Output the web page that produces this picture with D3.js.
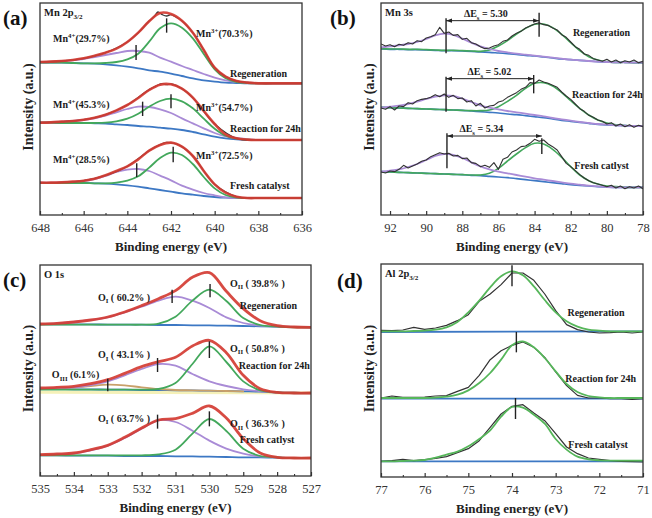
<!DOCTYPE html>
<html><head><meta charset="utf-8">
<script src="https://cdn.jsdelivr.net/npm/d3@7"></script>
<style>
body{margin:0;background:#fff;}
svg{display:block;}
</style></head><body>
<svg id="chart" width="652" height="518" font-family="Liberation Serif"></svg>
<script>
// ---------------- DATA ----------------
// (a) Mn 2p3/2
const aE = [648,647.5,647,646.5,646,645.5,645,644.5,644,643.5,643,642.5,642,641.5,641,640.5,640,639.5,639,638.5,638,637.5,637,636.5,636];
const aRegBg  = [457,457,457,456,455,454,452,449,445,440,434,430,424,417,410,404,400,397,396,395,395,395,395,395,395];
const aRegMn4 = [458,459,461,464,468,474,480,486,492,492,487,472,460,447,435,423,412,404,399,397,396,395,395,395,395];
const aRegMn3 = [457,457,457,456,455,455,456,459,467,484,520,560,575,562,530,483,437,410,399,396,395,395,395,395,395];
const aRegFit = [459,460,462,465,470,478,487,499,519,547,581,606,603,583,547,495,442,415,402,397,395,395,395,395,395];
const aRegRaw = [[648,459],[647,462],[646,470],[645,487],[644,519],[643.5,547],[643,582],[642.75,597],[642.6,609],[642.4,601],[642.2,597],[642,601],[641.75,593],[641.5,583],[641,547],[640.5,495],[640,442],[639.5,415],[639,402],[638,395],[637,395],[636,395]];
const aRxnBg  = [277,277,276,276,276,275,274,272,270,267,265,262,259,255,249,242,235,230,227,225,225,225,225,225,225];
const aRxnMn4 = [277,278,280,282,285,290,298,308,318,325,324,317,306,290,275,260,246,236,231,227,225,225,225,225,225];
const aRxnMn3 = [277,277,276,276,276,276,277,281,289,304,325,342,349,341,320,289,259,238,229,226,225,225,225,225,225];
const aRxnFit = [277,278,280,282,286,292,301,314,330,351,375,391,392,379,352,312,273,242,230,226,225,225,225,225,225];
const aRxnRaw = [[648,277],[647,280],[646,286],[645,301],[644,330],[643,376],[642.6,390],[642.4,394],[642.2,391],[642,393],[641.5,379],[641,352],[640,273],[639,230],[638,225],[636,225]];
const aFrBg   = [96,96,96,96,96,95,94,92,89,85,80,75,70,65,61,57,54,52,51,51,51,51,51,51,51];
const aFrMn4  = [97,97,98,99,102,108,117,129,136,138,132,118,104,88,76,66,59,53,51,51,51,51,51,51,51];
const aFrMn3  = [96,96,96,96,96,95,95,97,103,116,142,171,187,180,153,114,80,60,52,51,51,51,51,51,51];
const aFrFit  = [97,97,98,100,103,109,119,132,146,167,193,210,217,205,177,132,92,67,55,51,51,51,51,51,51];
const aFrRaw  = [[648,97],[647,98],[646,103],[645,119],[644,146],[643,193],[642.5,211],[642.2,218],[642,216],[641.8,214],[641.5,205],[641,177],[640,92],[639,55],[638,51],[636,51]];
const aMarks  = [[643.6,465,510],[642.2,547,590],[643.3,297,340],[642.0,320,362],[643.57,114,155],[641.9,158,205]];
const aLabels = [
  [[['Mn'],['4+','sup'],['(29.7%)']],647.4,530],
  [[['Mn'],['3+','sup'],['(70.3%)']],640.85,545],
  [[['Regeneration']],639.3,425],
  [[['Mn'],['4+','sup'],['(45.3%)']],647.4,333],
  [[['Mn'],['3+','sup'],['(54.7%)']],640.85,323],
  [[['Reaction for 24h']],639.3,260],
  [[['Mn'],['4+','sup'],['(28.5%)']],647.4,167],
  [[['Mn'],['3+','sup'],['(72.5%)']],640.85,180],
  [[['Fresh catalyst']],639.3,90]
];
const aTicks = [648,646,644,642,640,638,636];
const aMinor = [647,645,643,641,639,637];

// (b) Mn 3s
const bE = [92.5,92,91.5,91,90.5,90,89.5,89,88.5,88,87.5,87,86.5,86,85.5,85,84.5,84,83.5,83,82.5,82,81.5,81,80.5,80,79.5,79,78.5,78];
const bRawE = [92.5,92.25,92,91.75,91.5,91.25,91,90.75,90.5,90.25,90,89.75,89.5,89.25,89,88.75,88.5,88.25,88,87.75,87.5,87.25,87,86.75,86.5,86.25,86,85.75,85.5,85.25,85,84.75,84.5,84.25,84,83.75,83.5,83.25,83,82.75,82.5,82.25,82,81.75,81.5,81.25,81,80.75,80.5,80.25,80,79.75,79.5,79.25,79,78.75,78.5,78.25,78];
const bRegBg = [498,497,497,496,496,495,494,493,493,492,491,489,488,486,484,482,479,477,474,471,468,466,464,462,460,459,458,458,457,457];
const bRegP  = [503,506,509,513,519,528,539,544,540,529,517,506,498,492,488,484,481,478,475,472,469,466,464,462,460,459,458,458,457,457];
const bRegG  = [499,498,498,497,497,496,495,494,494,493,492,491,495,507,523,543,560,572,573,562,542,517,493,475,465,460,458,458,457,457];
const bRegRaw= [513,507,511,505,512,509,517,513,523,520,531,535,541,563,545,549,539,541,527,530,517,513,505,499,501,507,511,521,525,537,545,551,561,567,573,577,571,569,561,555,541,533,519,505,497,483,479,469,465,461,467,459,465,457,463,459,465,457,461];
const bRxnBg = [323,322,321,320,319,318,317,316,315,314,312,310,308,306,303,301,298,295,292,288,284,281,278,275,272,270,269,268,267,267];
const bRxnP  = [322,325,328,333,340,348,355,359,357,349,339,329,322,317,312,308,304,300,296,291,287,283,279,276,273,271,269,268,267,267];
const bRxnG  = [323,322,321,320,319,318,317,316,315,314,313,313,315,325,341,359,380,395,397,387,367,343,320,300,285,276,271,268,267,267];
const bRxnRaw= [321,317,325,315,327,325,337,333,343,347,349,353,361,355,363,353,359,349,351,339,343,327,335,321,327,329,339,343,353,360,367,377,383,397,395,405,399,395,389,383,369,357,347,333,319,311,299,293,285,281,273,277,267,273,265,271,263,269,265];
const bFrBg  = [130,129,128,127,126,125,124,123,122,121,119,118,116,114,112,109,106,103,100,97,94,91,89,87,85,84,83,83,83,83];
const bFrP   = [130,133,137,144,153,165,177,183,180,171,158,146,137,130,125,120,115,110,106,102,98,94,91,88,86,84,83,83,83,83];
const bFrG   = [130,129,128,127,126,125,124,123,122,121,120,120,125,140,162,183,202,215,213,197,173,145,120,103,93,87,85,83,83,83];
const bFrRaw = [129,126,132,130,137,149,141,147,153,161,165,175,181,187,183,185,177,179,169,171,157,155,145,149,143,157,137,167,173,189,195,205,207,215,227,221,225,213,205,195,175,155,145,133,121,111,103,97,93,89,85,89,81,87,79,85,81,87,79];
const bMarks = [[88.9,485,590],[83.75,535,607],[88.9,310,415],[84.05,365,420],[88.85,140,245],[83.6,183,230]];
const bArrows = [[88.9,83.75,583],[88.9,84.05,409],[88.85,83.6,237]];
const bDeltaTxt = ['5.30','5.02','5.34'];
const bDeltaPos = [[86.7,605],[86.5,430],[86.95,260]];
const bLabels = [
  [[['Regeneration']],81.88,548],
  [[['Reaction for 24h']],81.93,363],
  [[['Fresh catlyst']],81.8,148]
];
const bTicks = [92,90,88,86,84,82,80,78];
const bMinor = [91,89,87,85,83,81,79];

// (c) O 1s
const cE = [535,534.5,534,533.5,533,532.5,532,531.5,531,530.5,530,529.5,529,528.5,528,527.5,527];
const cE3 = [535,534.5,534,533.5,533,532.5,532,531.5,531,530.5,530,529.5,529];
const cRegBg  = [455,455,455,455,454,454,454,453,453,452,452,451,450,449,448,447,446];
const cRegOI  = [456,458,462,468,476,491,508,526,538,526,504,476,459,451,448,447,446];
const cRegOII = [454,454,454,454,454,454,454,457,478,526,559,525,474,453,448,446,446];
const cRegFit = [456,458,462,468,477,492,511,532,556,596,610,554,502,466,451,447,446];
const cRxnBg  = [261,261,260,260,259,259,258,258,257,257,256,255,254,253,251,250,249];
const cRxnOI  = [262,264,266,273,284,302,321,336,331,306,284,270,260,254,250,248,248];
const cRxnOII = [259,259,259,259,259,259,259,261,279,336,389,342,284,257,251,249,249];
const cRxnOIII= [261,262,265,270,274,272,266,261,258,257,256,255,254];
const cRxnFit = [264,266,269,277,289,308,328,343,356,390,407,370,302,262,251,249,249];
const cRxnResid = [[535,251],[527,249]];
const cFrBg   = [62,62,61,61,61,60,60,60,59,59,58,57,56,56,55,54,54];
const cFrOI   = [63,65,68,77,91,114,142,167,162,136,106,82,67,59,56,54,54];
const cFrOII  = [62,62,62,62,62,62,62,65,79,127,171,135,82,60,56,54,54];
const cFrFit  = [64,66,69,79,92,116,144,168,172,188,210,174,112,69,56,54,54];
const cMarks = [[531.1,519,559],[529.98,536,576],[531.53,312,354],[530.0,354,404],[533.0,254,292],[531.53,142,184],[530.0,149,194]];
const cLabels = [
  [[['O'],['I','sub'],[' ( 60.2% )']],533.29,537],
  [[['O'],['II','sub'],[' ( 39.8% )']],529.39,579],
  [[['Regeneration']],529.1,511],
  [[['O'],['I','sub'],[' ( 43.1% )']],533.29,364],
  [[['O'],['II','sub'],[' ( 50.8% )']],529.39,384],
  [[['O'],['III','sub'],[' (6.1%)']],534.65,304],
  [[['Reaction for 24h']],529.13,331],
  [[['O'],['I','sub'],[' ( 63.7% )']],533.29,174],
  [[['O'],['II','sub'],[' ( 36.3% )']],529.39,157],
  [[['Fresh catlyst']],529.1,109]
];
const cTicks = [535,534,533,532,531,530,529,528,527];
const cMinor = [534.5,533.5,532.5,531.5,530.5,529.5,528.5,527.5];

// (d) Al 2p3/2
const dE = [77,76.75,76.5,76.25,76,75.75,75.5,75.25,75,74.75,74.5,74.25,74,73.75,73.5,73.25,73,72.75,72.5,72.25,72,71.75,71.5,71.25,71];
const dRegFit = [437,437,437,438,439,442,449,465,494,529,569,602,617,605,572,531,494,467,451,442,439,437,437,437,437];
const dRegRaw = [440,439,441,449,443,447,455,469,487,527,549,577,612,612,590,549,499,457,442,435,432,433,435,432,435];
const dRegBg  = [[77,435],[71,437]];
const dRxnFit = [237,237,237,237,237,238,241,247,260,282,312,352,395,407,389,357,317,279,255,243,239,237,237,237,237];
const dRxnRaw = [237,243,239,239,240,243,244,257,269,305,352,379,395,405,389,359,315,274,245,237,237,235,235,233,235];
const dRxnBg  = [[77,235],[71,235]];
const dFrFit  = [47,47,48,49,51,58,67,76,92,114,140,181,210,208,187,160,114,82,61,53,50,49,49,49,49];
const dFrRaw  = [47,49,53,49,52,56,61,73,85,109,149,189,212,217,192,169,130,90,70,57,53,49,47,46,45];
const dFrBg   = [[77,47],[71,47]];
const dMarks = [[74.0,572,635],[73.9,374,435],[73.92,174,237]];
const dLabels = [
  [[['Regeneration']],72.73,495],
  [[['Reaction for 24h']],72.78,297],
  [[['Fresh catalyst']],72.71,97]
];
const dTicks = [77,76,75,74,73,72,71];
const dMinor = [76.5,75.5,74.5,73.5,72.5,71.5];

// ---------------- DRAW ----------------
const FONT = 'Liberation Serif';
const COL = {red:'#d43c33', green:'#43a85c', purple:'#a98bd6', blue:'#3d78c4', raw:'#333333', tan:'#c9a06a', yellow:'#f5f1b8', lgreen:'#56b65a'};
const svg = d3.select('#chart');
const defs = svg.append('defs');
['s','e'].forEach(k=>{
  defs.append('marker').attr('id','arr'+k).attr('viewBox','0 0 10 10').attr('refX',k==='e'?10:0).attr('refY',5)
    .attr('markerWidth',6).attr('markerHeight',6).attr('orient','auto')
    .append('path').attr('d',k==='e'?'M0,1.5 L10,5 L0,8.5 Z':'M10,1.5 L0,5 L10,8.5 Z').attr('fill','#222');
});
const zip = (xs, ys) => xs.map((v,i)=>[v, ys[i]]);

function txt(g){
  return g.append('text').attr('font-family',FONT).attr('xml:space','preserve');
}
function rich(t, parts, size){
  let shift = 0;
  parts.forEach(([s,k])=>{
    const target = k==='sup' ? -size*0.38 : (k==='sub' ? size*0.28 : 0);
    const ts = t.append('tspan').attr('font-family',FONT).text(s).attr('dy', target - shift);
    if(k) ts.attr('font-size', size*0.68);
    shift = target;
  });
}

function panel(p){
  const x = d3.scaleLinear().domain(p.xd).range([p.l, p.r]);
  const y = d3.scaleLinear().domain(p.yd).range([p.b, p.t]);
  const g = svg.append('g');
  defs.append('clipPath').attr('id','clip'+p.name).append('rect')
    .attr('x',p.l).attr('y',p.t).attr('width',p.r-p.l).attr('height',p.b-p.t);
  const cg = g.append('g').attr('clip-path',`url(#clip${p.name})`);
  p.series.forEach(s=>{
    const line = d3.line().x(d=>x(d[0])).y(d=>y(d[1])).curve(s.linear ? d3.curveLinear : d3.curveCatmullRom.alpha(0.5));
    cg.append('path').attr('d',line(s.pts)).attr('fill','none').attr('stroke',s.c)
      .attr('stroke-width',s.w).attr('stroke-linejoin','round').attr('stroke-linecap','round')
      .attr('opacity', s.op||1);
  });
  (p.marks||[]).forEach(m=>{
    g.append('line').attr('x1',x(m[0])).attr('x2',x(m[0])).attr('y1',y(m[1])).attr('y2',y(m[2]))
      .attr('stroke','#222').attr('stroke-width',1.4);
  });
  (p.labels||[]).forEach(([parts,E,I])=>{
    const t = txt(g).attr('x',x(E)).attr('y',y(I)+3.5).attr('font-size',10)
      .attr('font-weight','bold').attr('fill','#1a1a1a');
    rich(t, parts, 10);
  });
  if(p.extra) p.extra(g,x,y);
  // axis
  const ax = g.append('g').attr('transform',`translate(0,${p.b})`)
    .call(d3.axisBottom(x).tickValues(p.ticks).tickFormat(d3.format('d')).tickSize(-4).tickSizeOuter(0).tickPadding(8));
  ax.select('.domain').remove();
  ax.attr('font-size',12.5).attr('font-family',FONT);
  ax.selectAll('text').attr('fill','#333').attr('font-family',FONT);
  ax.selectAll('line').attr('stroke','#333').attr('stroke-width',1.2);
  const mx = g.append('g').attr('transform',`translate(0,${p.b})`)
    .call(d3.axisBottom(x).tickValues(p.minor).tickFormat('').tickSize(-2).tickSizeOuter(0));
  mx.select('.domain').remove();
  mx.selectAll('line').attr('stroke','#333').attr('stroke-width',1.1);
  // frame
  g.append('rect').attr('x',p.l).attr('y',p.t).attr('width',p.r-p.l).attr('height',p.b-p.t)
    .attr('fill','none').attr('stroke','#333').attr('stroke-width',1.3);
  // titles
  txt(g).attr('x',(p.l+p.r)/2).attr('y',p.b+36).attr('text-anchor','middle')
    .attr('font-size',13).attr('font-weight','bold').attr('fill','#222').text('Binding energy (eV)');
  txt(g).attr('transform',`translate(${p.l-7},${(p.t+p.b)/2-2}) rotate(-90)`).attr('text-anchor','middle')
    .attr('font-size',14).attr('font-weight','bold').attr('fill','#222').text('Intensity (a.u.)');
  const pt = txt(g).attr('x',p.l+4).attr('y',p.t+13).attr('font-size',10.5).attr('font-weight','bold').attr('fill','#1a1a1a');
  rich(pt, p.title, 10.5);
  txt(g).attr('x',p.tagX).attr('y',p.tagY).attr('font-size',21).attr('font-weight','bold').attr('fill','#111').text(p.tag);
}

const ser = (xs, ys, c, w, o={}) => Object.assign({pts: zip(xs, ys), c, w}, o);

panel({name:'a', xd:[648,636], l:40, r:302, t:3, b:215, yd:[0,636], ticks:aTicks, minor:aMinor,
  title:[['Mn 2p'],['3/2','sub']], tag:'(a)', tagX:3, tagY:25,
  series:[
    ser(aE,aRegBg,COL.blue,1.8), ser(aE,aRegMn4,COL.purple,1.8), ser(aE,aRegMn3,COL.green,1.8),
    {pts:aRegRaw,c:COL.raw,w:1.3}, ser(aE,aRegFit,COL.red,2.6,{op:0.92}),
    ser(aE,aRxnBg,COL.blue,1.8), ser(aE,aRxnMn4,COL.purple,1.8), ser(aE,aRxnMn3,COL.green,1.8),
    {pts:aRxnRaw,c:COL.raw,w:1.3}, ser(aE,aRxnFit,COL.red,2.6,{op:0.92}),
    ser(aE,aFrBg,COL.blue,1.8), ser(aE,aFrMn4,COL.purple,1.8), ser(aE,aFrMn3,COL.green,1.8),
    {pts:aFrRaw,c:COL.raw,w:1.3}, ser(aE,aFrFit,COL.red,2.6,{op:0.92})
  ], marks:aMarks, labels:aLabels});

panel({name:'b', xd:[92.5,78], l:381, r:643, t:3, b:215, yd:[0,636], ticks:bTicks, minor:bMinor,
  title:[['Mn 3s']], tag:'(b)', tagX:330, tagY:25,
  series:[
    ser(bE,bRegBg,COL.blue,1.6), ser(bE,bRegG,COL.green,1.6), ser(bE,bRegP,COL.purple,1.8), ser(bRawE,bRegRaw,COL.raw,1.1,{linear:true}),
    ser(bE,bRxnBg,COL.blue,1.6), ser(bE,bRxnG,COL.green,1.6), ser(bE,bRxnP,COL.purple,1.8), ser(bRawE,bRxnRaw,COL.raw,1.1,{linear:true}),
    ser(bE,bFrBg,COL.blue,1.6), ser(bE,bFrG,COL.green,1.6), ser(bE,bFrP,COL.purple,1.8), ser(bRawE,bFrRaw,COL.raw,1.1,{linear:true})
  ], marks:bMarks, labels:bLabels,
  extra:(g,x,y)=>{
    bArrows.forEach(([e1,e2,I],i)=>{
      g.append('line').attr('x1',x(e1)).attr('x2',x(e2)).attr('y1',y(I)).attr('y2',y(I))
        .attr('stroke','#222').attr('stroke-width',1).attr('marker-start','url(#arrs)').attr('marker-end','url(#arre)');
      const t = txt(g).attr('x',x(bDeltaPos[i][0])).attr('y',y(bDeltaPos[i][1])+3.5).attr('text-anchor','middle')
        .attr('font-size',10).attr('font-weight','bold').attr('fill','#1a1a1a');
      rich(t, [['ΔE'],['s','sub'],[' = '+bDeltaTxt[i]]], 10);
    });
  }});

panel({name:'c', xd:[535,527], l:40, r:311, t:265, b:476, yd:[0,633], ticks:cTicks, minor:cMinor,
  title:[['O 1s']], tag:'(c)', tagX:3, tagY:287,
  series:[
    ser(cE,cRegBg,COL.blue,1.8), ser(cE,cRegOI,COL.purple,1.8), ser(cE,cRegOII,COL.green,1.8), ser(cE,cRegFit,COL.red,2.8,{op:0.92}),
    {pts:cRxnResid,c:COL.yellow,w:3,linear:true},
    ser(cE,cRxnBg,COL.blue,1.8), ser(cE3,cRxnOIII,COL.tan,1.8), ser(cE,cRxnOI,COL.purple,1.8), ser(cE,cRxnOII,COL.green,1.8), ser(cE,cRxnFit,COL.red,2.8,{op:0.92}),
    ser(cE,cFrBg,COL.blue,1.8), ser(cE,cFrOI,COL.purple,1.8), ser(cE,cFrOII,COL.green,1.8), ser(cE,cFrFit,COL.red,2.8,{op:0.92})
  ], marks:cMarks, labels:cLabels});

panel({name:'d', xd:[77,71], l:381, r:643, t:264, b:477, yd:[0,639], ticks:dTicks, minor:dMinor,
  title:[['Al 2p'],['3/2','sub']], tag:'(d)', tagX:337, tagY:288,
  series:[
    {pts:dRegBg,c:COL.blue,w:1.8,linear:true}, ser(dE,dRegRaw,COL.raw,1.2,{linear:true}), ser(dE,dRegFit,COL.lgreen,1.8),
    {pts:dRxnBg,c:COL.blue,w:1.8,linear:true}, ser(dE,dRxnRaw,COL.raw,1.2,{linear:true}), ser(dE,dRxnFit,COL.lgreen,1.8),
    {pts:dFrBg,c:COL.blue,w:1.8,linear:true}, ser(dE,dFrRaw,COL.raw,1.2,{linear:true}), ser(dE,dFrFit,COL.lgreen,1.8)
  ], marks:dMarks, labels:dLabels});
</script></body></html>
